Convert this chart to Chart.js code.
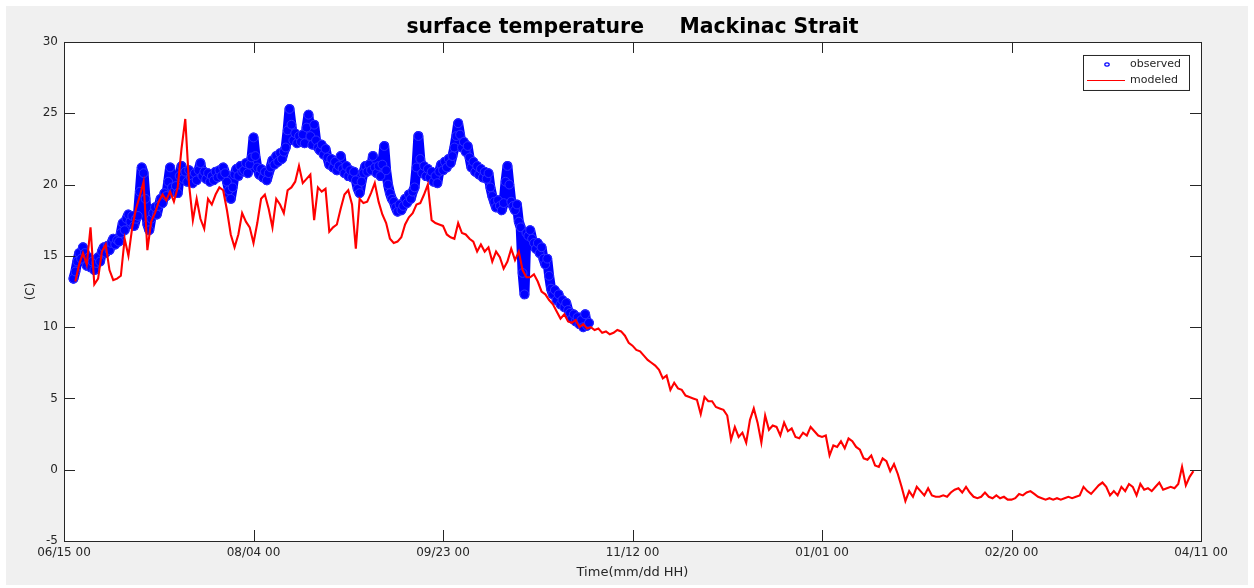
<!DOCTYPE html>
<html>
<head>
<meta charset="utf-8">
<title>surface temperature Mackinac Strait</title>
<script src="https://cdn.jsdelivr.net/npm/chart.js@4.4.1/dist/chart.umd.min.js"></script>
<style>
  html, body { margin: 0; padding: 0; background: #ffffff; }
  #wrap { width: 1254px; height: 588px; }
</style>
</head>
<body>
<div id="wrap"><canvas id="chart" width="1254" height="588"></canvas></div>
<script>
// text
const chartTitle = 'surface temperature     Mackinac Strait';
const xTitle = 'Time(mm/dd HH)';
const yTitle = '(C)';

// x axis: days since 06/15 00, one labelled tick every 50 days
const xTickLabels = ['06/15 00', '08/04 00', '09/23 00', '11/12 00', '01/01 00', '02/20 00', '04/11 00'];
const daysPerTick = 50;

// observed, every half day from day 2.5
const observedStartDay = 2.5;
const observedStepDay = 0.5;
const observedTemp = [
  13.4, 13.9, 14.6, 15.2, 14.8, 15.6, 15.2, 14.3, 14.9, 14.2,
  14.6, 14.0, 14.5, 14.9, 14.6, 15.3, 15.6, 15.2, 15.7, 15.4,
  15.9, 16.2, 15.8, 16.1, 16.0, 16.6, 17.3, 16.8, 17.6, 17.9,
  17.4, 17.8, 17.1, 17.6, 17.8, 19.5, 21.2, 20.8, 19.0, 17.2,
  16.8, 17.6, 18.0, 18.4, 17.9, 18.5, 19.0, 18.7, 19.4, 19.2,
  20.2, 21.2, 19.8, 19.5, 19.9, 19.4, 20.6, 21.3, 20.4, 20.9,
  20.2, 21.0, 20.5, 20.1, 20.8, 20.3, 21.0, 21.5, 20.6, 20.9,
  20.4, 20.8, 20.2, 20.6, 20.3, 20.9, 20.5, 21.0, 20.6, 21.2,
  20.8, 20.2, 19.6, 19.0, 19.8, 20.7, 21.1, 20.6, 21.3, 20.9,
  21.0, 21.5, 20.8, 21.4, 21.9, 23.3, 22.0, 21.2, 20.7, 21.1,
  20.5, 20.9, 20.3, 20.8, 21.2, 21.7, 21.4, 22.0, 21.6, 22.2,
  21.8, 22.3, 22.6, 23.8, 25.3, 24.2, 23.1, 23.6, 22.9, 23.4,
  23.0, 23.5, 22.9, 24.0, 24.9, 23.4, 22.8, 24.2, 23.1, 22.6,
  22.4, 22.8, 22.1, 22.5, 21.9, 21.4, 21.8, 21.2, 21.6, 21.0,
  21.3, 22.0, 21.1, 20.8, 21.3, 20.6, 21.0, 20.5, 20.9, 20.3,
  19.7, 19.4, 20.2, 20.8, 21.3, 20.9, 21.4, 21.0, 22.0, 21.2,
  20.8, 21.3, 20.6, 21.4, 22.7, 21.0, 20.0, 19.4, 19.0, 18.8,
  18.4, 18.1, 18.6, 18.2, 18.5, 19.0, 18.7, 19.3, 19.0, 19.5,
  19.8, 21.2, 23.4, 21.8, 20.8, 21.3, 20.6, 21.1, 20.5, 20.9,
  20.2, 20.6, 20.1, 20.9, 21.4, 21.0, 21.6, 21.2, 21.8, 21.5,
  22.0, 22.6, 23.4, 24.3, 23.5, 22.6, 23.0, 22.3, 22.7, 21.9,
  21.2, 21.6, 20.9, 21.3, 20.7, 21.1, 20.5, 20.9, 20.4, 20.8,
  19.8, 19.2, 18.8, 18.4, 18.9, 18.5, 18.2, 18.7, 20.2, 21.3,
  20.0, 18.8, 18.5, 18.2, 18.6, 17.4, 17.0, 13.8, 12.3, 16.6,
  16.4, 16.8, 16.2, 15.9, 15.5, 15.9, 15.2, 15.6, 14.8, 14.4,
  14.8, 13.6, 12.7, 12.3, 12.6, 11.9, 12.3, 11.6, 11.9, 11.4,
  11.7, 11.2, 11.0, 10.6, 10.9, 10.4, 10.7, 10.2, 10.5, 10.0,
  10.9, 10.1, 10.3
];

// modeled, once a day from day 3
const modeledStartDay = 3;
const modeledStepDay = 1;
const modeledTemp = [
  13.2, 14.4, 15.2, 14.4, 17.0, 13.0, 13.4, 15.3, 15.8, 14.0,
  13.3, 13.4, 13.6, 16.2, 15.0, 17.0, 18.3, 19.2, 20.2, 15.4,
  17.4, 18.0, 18.8, 19.3, 18.9, 19.5, 18.8, 19.8, 22.5, 24.6,
  20.0, 17.5, 19.0, 17.6, 16.9, 19.0, 18.6, 19.3, 19.8, 19.6,
  18.2, 16.5, 15.6, 16.5, 18.0, 17.4, 17.0, 15.9, 17.3, 19.0,
  19.3, 18.3, 17.0, 19.0, 18.6, 18.0, 19.6, 19.8, 20.2, 21.3,
  20.1, 20.4, 20.7, 17.5, 19.8, 19.5, 19.7, 16.7, 17.0, 17.2,
  18.3, 19.3, 19.6, 18.6, 15.5, 19.0, 18.7, 18.8, 19.4, 20.1,
  18.8, 17.9, 17.3, 16.2, 15.9, 16.0, 16.3, 17.2, 17.7, 18.0,
  18.6, 18.7, 19.3, 20.0, 17.5, 17.3, 17.2, 17.1, 16.5, 16.3,
  16.2, 17.3, 16.6, 16.5, 16.2, 16.0, 15.3, 15.8, 15.3, 15.6,
  14.6, 15.3, 14.9, 14.1, 14.6, 15.5, 14.7, 15.3, 14.0, 13.5,
  13.5, 13.7, 13.2, 12.5, 12.3, 11.9, 11.6, 11.1, 10.6, 10.9,
  10.4, 10.3, 10.5, 10.0, 10.2, 9.9, 10.0, 9.8, 9.9, 9.6,
  9.7, 9.5, 9.6, 9.8, 9.7, 9.4, 8.9, 8.7, 8.4, 8.3,
  8.0, 7.7, 7.5, 7.3, 7.0, 6.4, 6.6, 5.6, 6.1, 5.7,
  5.6, 5.2, 5.1, 5.0, 4.9, 3.9, 5.1, 4.8, 4.8, 4.4,
  4.3, 4.2, 3.8, 2.1, 3.0, 2.3, 2.6, 1.9, 3.5, 4.3,
  3.3, 1.9, 3.8, 2.8, 3.1, 3.0, 2.4, 3.3, 2.7, 2.9,
  2.3, 2.2, 2.6, 2.4, 3.0, 2.7, 2.4, 2.3, 2.4, 1.0,
  1.7, 1.6, 2.0, 1.5, 2.2, 2.0, 1.6, 1.4, 0.8, 0.7,
  1.0, 0.3, 0.2, 0.8, 0.6, -0.1, 0.4, -0.3, -1.2, -2.2,
  -1.5, -1.9, -1.2, -1.5, -1.8, -1.3, -1.8, -1.9, -1.9, -1.8,
  -1.9, -1.6, -1.4, -1.3, -1.6, -1.2, -1.6, -1.9, -2.0, -1.9,
  -1.6, -1.9, -2.0, -1.8, -2.0, -1.9, -2.1, -2.1, -2.0, -1.7,
  -1.8, -1.6, -1.5, -1.7, -1.9, -2.0, -2.1, -2.0, -2.1, -2.0,
  -2.1, -2.0, -1.9, -2.0, -1.9, -1.8, -1.2, -1.5, -1.7, -1.4,
  -1.1, -0.9, -1.2, -1.8, -1.5, -1.8, -1.2, -1.5, -1.0, -1.2,
  -1.8, -1.0, -1.4, -1.3, -1.5, -1.2, -0.9, -1.4, -1.3, -1.2,
  -1.3, -1.0, 0.2, -1.1, -0.5, -0.1
];

function toPoints(start, step, values) {
  return values.map((v, i) => ({ x: start + i * step, y: v }));
}

const axisColor = '#262626';
const textColor = '#262626';

// grey figure, white axes
const figureBackground = {
  id: 'figureBackground',
  beforeDraw(chart) {
    const { ctx, chartArea: a } = chart;
    ctx.save();
    ctx.fillStyle = '#ffffff';
    ctx.fillRect(0, 0, chart.width, chart.height);
    ctx.fillStyle = '#f0f0f0';
    ctx.fillRect(6, 6, chart.width - 12, chart.height - 9);
    ctx.fillStyle = '#ffffff';
    ctx.fillRect(a.left, a.top, a.right - a.left, a.bottom - a.top);
    ctx.restore();
  }
};

// matlab style box with ticks pointing in
const axesBox = {
  id: 'axesBox',
  afterDatasetsDraw(chart) {
    const { ctx, chartArea: a, scales } = chart;
    const len = 11;
    ctx.save();
    ctx.strokeStyle = axisColor;
    ctx.lineWidth = 1;
    ctx.beginPath();
    scales.x.ticks.forEach(t => {
      const px = Math.round(scales.x.getPixelForValue(t.value)) + 0.5;
      ctx.moveTo(px, a.bottom); ctx.lineTo(px, a.bottom - len);
      ctx.moveTo(px, a.top); ctx.lineTo(px, a.top + len);
    });
    scales.y.ticks.forEach(t => {
      const py = Math.round(scales.y.getPixelForValue(t.value)) + 0.5;
      ctx.moveTo(a.left, py); ctx.lineTo(a.left + len, py);
      ctx.moveTo(a.right, py); ctx.lineTo(a.right - len, py);
    });
    ctx.stroke();
    ctx.strokeRect(Math.round(a.left) + 0.5, Math.round(a.top) + 0.5,
      Math.round(a.right - a.left), Math.round(a.bottom - a.top));
    ctx.restore();
  }
};

// legend box in the upper right corner of the axes
const cornerLegend = {
  id: 'cornerLegend',
  afterDraw(chart) {
    const { ctx, chartArea: a } = chart;
    const [obs, mod] = chart.data.datasets;
    const bx = a.right - 118, by = a.top + 13, bw = 106, bh = 35;
    ctx.save();
    ctx.fillStyle = '#ffffff';
    ctx.fillRect(bx, by, bw, bh);
    ctx.strokeStyle = axisColor;
    ctx.lineWidth = 1;
    ctx.strokeRect(bx + 0.5, by + 0.5, bw, bh);
    // observed marker
    ctx.beginPath();
    ctx.ellipse(bx + 24, by + 9.5, 2.2, 1.6, 0, 0, Math.PI * 2);
    ctx.strokeStyle = '#0000ff';
    ctx.lineWidth = 1.2;
    ctx.stroke();
    // modeled line
    ctx.beginPath();
    ctx.moveTo(bx + 4, by + 25.5);
    ctx.lineTo(bx + 42, by + 25.5);
    ctx.strokeStyle = mod.borderColor;
    ctx.lineWidth = 1.2;
    ctx.stroke();
    ctx.fillStyle = textColor;
    ctx.font = '11px "DejaVu Sans"';
    ctx.textBaseline = 'middle';
    ctx.fillText(obs.label, bx + 47, by + 9.5);
    ctx.fillText(mod.label, bx + 47, by + 25.5);
    ctx.restore();
  }
};

new Chart(document.getElementById('chart'), {
  type: 'line',
  data: {
    datasets: [
      {
        // dense circle markers merge into a solid band
        label: 'observed',
        data: toPoints(observedStartDay, observedStepDay, observedTemp),
        showLine: true,
        borderColor: '#0000ff',
        borderWidth: 10,
        borderJoinStyle: 'round',
        borderCapStyle: 'round',
        tension: 0,
        pointStyle: 'circle',
        pointRadius: 4.4,
        pointBorderWidth: 1,
        pointBorderColor: '#3030ff',
        pointBackgroundColor: '#0000ff',
        order: 1
      },
      {
        label: 'modeled',
        data: toPoints(modeledStartDay, modeledStepDay, modeledTemp),
        borderColor: '#ff0000',
        backgroundColor: '#ff0000',
        borderWidth: 2.1,
        borderJoinStyle: 'miter',
        pointRadius: 0,
        tension: 0,
        order: 0
      }
    ]
  },
  options: {
    responsive: false,
    animation: false,
    devicePixelRatio: 1,
    layout: { padding: { left: 0, right: 53, top: 0, bottom: 0 } },
    plugins: {
      legend: { display: false },
      tooltip: { enabled: false },
      title: {
        display: true,
        text: chartTitle,
        fullSize: false,
        color: '#000000',
        font: { family: 'DejaVu Sans', size: 20.4, weight: 'bold' },
        padding: { top: 15, bottom: 2.5 }
      }
    },
    scales: {
      x: {
        type: 'linear',
        min: 0,
        max: daysPerTick * (xTickLabels.length - 1),
        afterFit(scale) { scale.height = 47; },
        grid: { display: false, drawTicks: false },
        border: { display: false },
        ticks: {
          stepSize: daysPerTick,
          autoSkip: false,
          maxRotation: 0,
          padding: 5,
          color: textColor,
          font: { family: 'DejaVu Sans', size: 12 },
          callback: v => xTickLabels[Math.round(v / daysPerTick)]
        },
        title: {
          display: true,
          text: xTitle,
          color: textColor,
          font: { family: 'DejaVu Sans', size: 13 },
          padding: { top: 0, bottom: 8 }
        }
      },
      y: {
        min: -5,
        max: 30,
        afterFit(scale) { scale.width = 64; },
        grid: { display: false, drawTicks: false },
        border: { display: false },
        ticks: {
          stepSize: 5,
          padding: 6,
          color: textColor,
          font: { family: 'DejaVu Sans', size: 12 }
        },
        title: {
          display: true,
          text: yTitle,
          color: textColor,
          font: { family: 'DejaVu Sans', size: 12 },
          padding: { top: 24, bottom: 0 }
        }
      }
    }
  },
  plugins: [figureBackground, axesBox, cornerLegend]
});
</script>
</body>
</html>
